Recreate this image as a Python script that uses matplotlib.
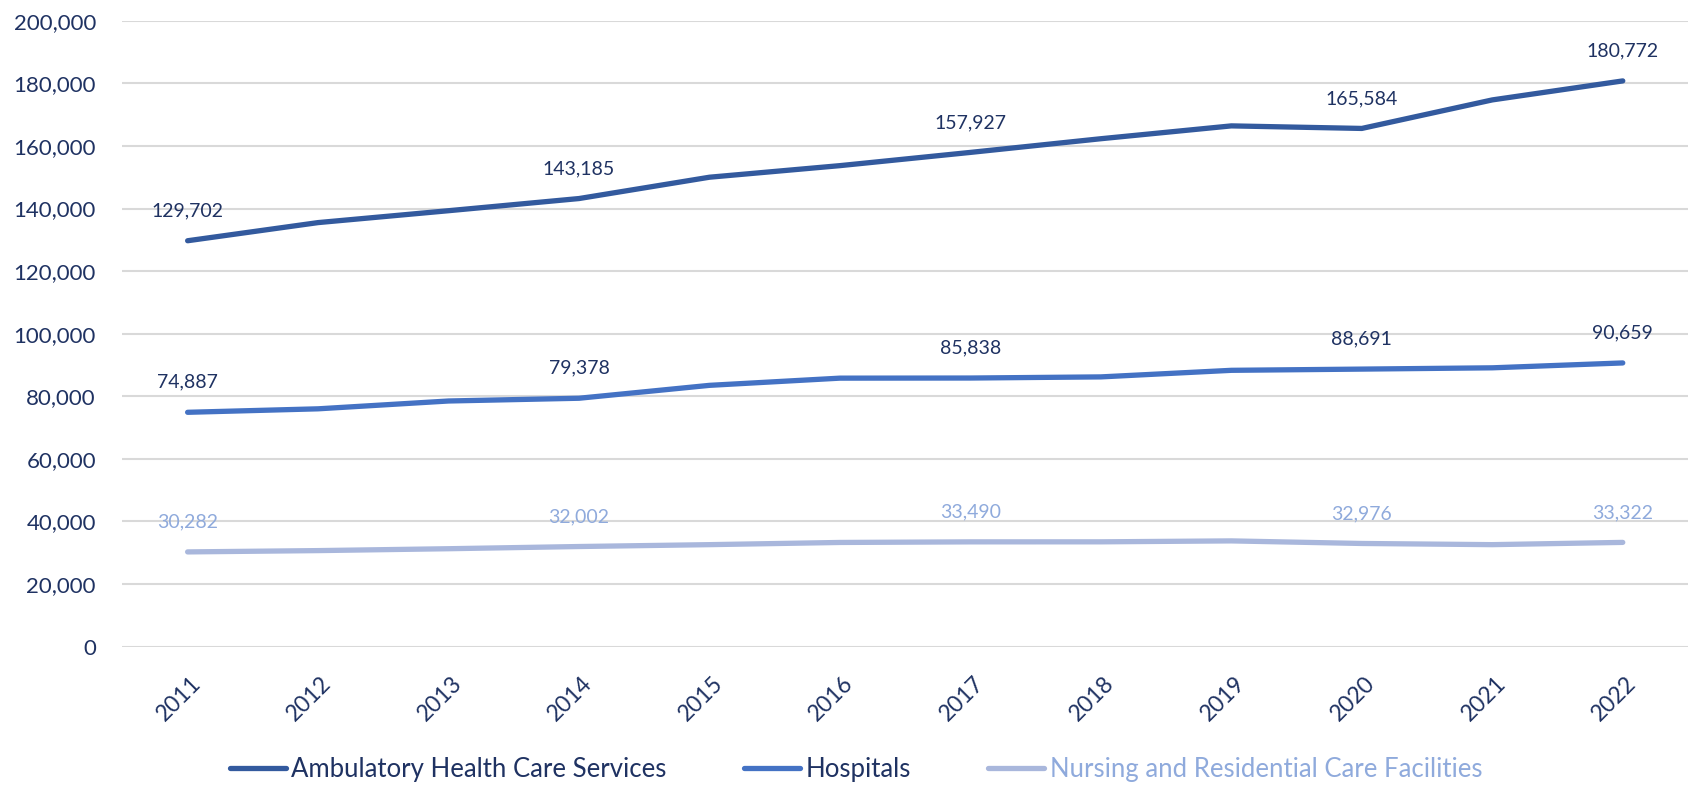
import matplotlib.pyplot as plt
import matplotlib.transforms as mtransforms
from matplotlib.ticker import FuncFormatter

plt.rcParams['font.family'] = ['Lato', 'DejaVu Sans']

years = ['2011', '2012', '2013', '2014', '2015', '2016',
         '2017', '2018', '2019', '2020', '2021', '2022']
ambulatory = [129702, 135500, 139300, 143185, 150000, 153700,
              157927, 162300, 166400, 165584, 174700, 180772]
hospitals = [74887, 76000, 78500, 79378, 83500, 85800,
             85838, 86200, 88300, 88691, 89100, 90659]
nursing = [30282, 30700, 31300, 32002, 32600, 33300,
           33490, 33500, 33800, 32976, 32600, 33322]
labeled = [0, 3, 6, 9, 11]  # points that carry a value label

navy = '#1F3262'
series = [
    ('Ambulatory Health Care Services', ambulatory, '#335A9E', navy),
    ('Hospitals', hospitals, '#4472C4', navy),
    ('Nursing and Residential Care Facilities', nursing, '#A9B7DC', '#8FAADC'),
]

fig = plt.figure(figsize=(16.88, 7.85), dpi=100)
ax = fig.add_axes([0.0725, 0.1762, 0.9275, 0.7974])

x = list(range(len(years)))
for name, vals, col, lab_col in series:
    ax.plot(x, vals, color=col, lw=3.8, solid_capstyle='round',
            solid_joinstyle='round', label=name)
    for i in labeled:
        ax.annotate(f'{vals[i]:,}', (x[i], vals[i]), xytext=(0, 30),
                    textcoords='offset pixels', ha='center', va='center',
                    fontsize=14, color=lab_col)

ax.set_ylim(0, 200000)
ax.set_xlim(-0.5, 11.5)
ax.set_yticks(range(0, 200001, 20000))
ax.yaxis.set_major_formatter(FuncFormatter(lambda v, p: f'{int(v):,}'))
ax.set_xticks(x)
ax.set_xticklabels(years, rotation=45, ha='right', va='center',
                   rotation_mode='anchor')
ax.tick_params(axis='both', length=0, labelsize=16.5, colors=navy)
ax.tick_params(axis='y', labelsize=16, pad=19)
ax.tick_params(axis='x', pad=24)
# nudge year labels to the right like the original
shift = mtransforms.ScaledTranslation(10 / 100, 0, fig.dpi_scale_trans)
for lab in ax.get_xticklabels():
    lab.set_transform(lab.get_transform() + shift)
ax.grid(axis='y', color='#D9D9D9', lw=1.5)
ax.set_axisbelow(True)
for s in ax.spines.values():
    s.set_visible(False)

leg = fig.legend(loc='center', bbox_to_anchor=(0.507, 0.02), ncol=3,
                 frameon=False, fontsize=18.5, handlelength=2.2,
                 handletextpad=0.2, columnspacing=3.0)
for txt, (_, _, _, lab_col) in zip(leg.get_texts(), series):
    txt.set_color(lab_col)

fig.savefig('out.png', dpi=100)
